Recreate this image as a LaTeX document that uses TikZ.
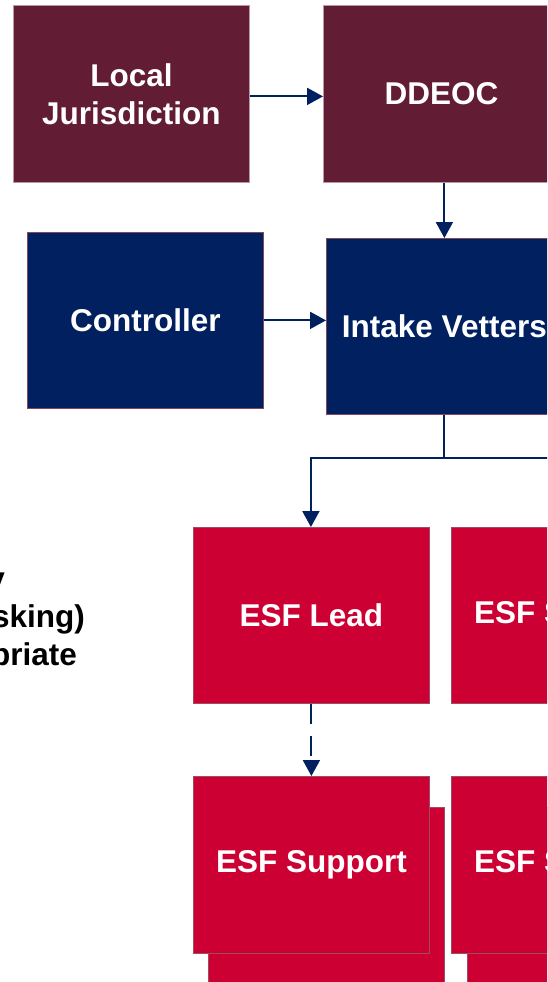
\documentclass[tikz,border=0pt]{standalone}
\usepackage{fontspec}
\setmainfont{Liberation Sans}
\usetikzlibrary{arrows.meta}
\definecolor{maroonbox}{HTML}{621C33}
\definecolor{navybox}{HTML}{002060}
\definecolor{redbox}{HTML}{CC0033}
\definecolor{navyline}{HTML}{002060}
\tikzset{
  boxbase/.style={rectangle, anchor=north west, minimum width=236pt, minimum height=177pt,
    inner sep=0pt, line width=0.8pt, text=white, font=\fontsize{31.5}{38}\selectfont\bfseries, align=center},
  maroonnode/.style={boxbase, fill=maroonbox, draw=maroonbox!45!white},
  navynode/.style={boxbase, fill=navybox, draw=maroonbox!80!white},
  rednode/.style={boxbase, fill=redbox, draw=gray!60!redbox},
  conn/.style={draw=navyline, line width=2pt},
  arr/.style={conn, -{Triangle[width=17pt,length=16pt]}},
  sidetext/.style={anchor=base east, inner sep=0pt, font=\fontsize{31.5}{38}\selectfont\bfseries, text=black}
}
\begin{document}
\begin{tikzpicture}[x=1pt,y=-1pt]
\useasboundingbox (0,0) rectangle (547,982);
\clip (0,0) rectangle (547,982);
\fill[white] (0,0) rectangle (547,982);
% top row
\node[maroonnode] (L) at (13,5) {Local\\Jurisdiction};
\node[maroonnode] (D) at (323,5) {DDEOC};
% second row
\node[navynode, minimum height=176pt] (C) at (27,232) {Controller};
\node[navynode, minimum height=176pt] (I) at (326,238) {Intake Vetters};
% ESF row
\node[rednode, minimum height=176pt] (Lead) at (193,527) {ESF Lead};
\node[rednode, minimum height=176pt] (S1) at (451,527) {ESF Support};
% stacked support boxes
\node[rednode] (SupBack) at (208,807) {};
\node[rednode] (Sup) at (193,776) {ESF Support};
\node[rednode] (S2Back) at (467,807) {};
\node[rednode] (S2) at (451,776) {ESF Support};
% side text (cut off at left edge)
\node[sidetext] (t1) at (5,589) {y};
\node[sidetext] (t2) at (85,627) {sking)};
\node[sidetext] (t3) at (77,665) {priate};
% connectors
\draw[arr] ([yshift=-2.5pt]L.east) -- ([yshift=-2.5pt]L.east -| D.west);
\draw[arr] (D.south -| I.north) -- (I.north);
\draw[arr] (C.east) -- (C.east -| I.west);
\coordinate (split) at ([yshift=-43pt]I.south);
\draw[conn] (I.south) -- (split);
\draw[arr] (split) -| ([xshift=-0.5pt]Lead.north);
\draw[arr] (split) -| (S1.north);
\draw[arr, dash pattern=on 20pt off 12pt] (Lead.south) -- (Sup.north);
\end{tikzpicture}
\end{document}
